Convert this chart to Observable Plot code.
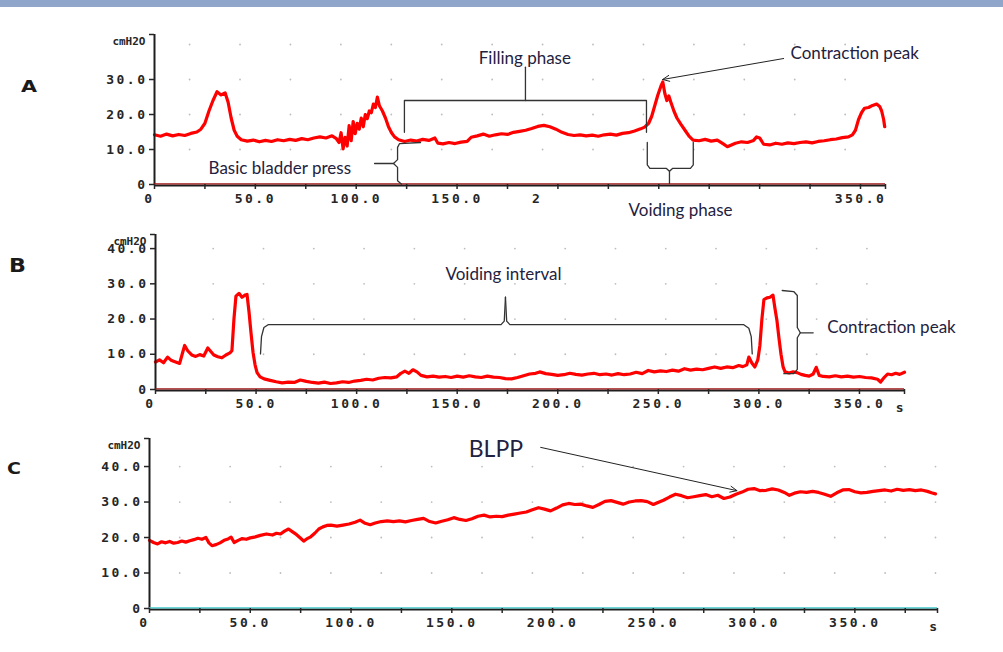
<!DOCTYPE html>
<html><head><meta charset="utf-8">
<script src="https://cdn.jsdelivr.net/npm/d3@7"></script>
<script src="https://cdn.jsdelivr.net/npm/@observablehq/plot@0.6"></script>
<style>
html,body{margin:0;padding:0;background:#fff;}
#wrap{position:relative;width:1003px;height:652px;overflow:hidden;background:#fff;}
#band{position:absolute;left:0;top:0;width:1003px;height:7px;background:#8fa5c9;z-index:5;}
.letter{position:absolute;font-family:"DejaVu Sans";font-weight:bold;color:#1a1a1a;line-height:1;transform-origin:left top;}
g[aria-label="x-axis tick label"] text, g[aria-label="y-axis tick label"] text {letter-spacing:2.5px;}
g[aria-label="unit"] text {letter-spacing:3px;}
</style></head>
<body><div id="wrap"><div id="band"></div></div>
<script>
// ---------- Panel A : bladder pressure (cmH2O) vs time (s) ----------
const aTime = [0,3,6,9,12,15,18,21,23,25,27,29,31,33,35,36.5,38,39.5,41,43,46,49,52,55,58,61,64,67,70,73,76,79,82,85,88,90,91.5,92.5,93.5,94.5,95.5,96.5,97.5,98.5,99.5,100.5,101.5,102.5,103.5,104.5,105.5,106.5,107.5,108.5,109.5,110.5,111.5,113,114.5,116,117.5,119,121,124,127,130,133,136,139,140.5,143,146,149,152,155,157,160,163,166,169,172,175,178,181,184,187,190,193,196,199,202,205,208,211,214,217,220,223,226,229,232,235,238,241,243,245,246.5,248,249.5,251,252,253,254,255,256,257.5,259,261,263,265,267,270,273,276,279,282,284,286,288,291,294,297,298.5,300,302,305,308,311,314,317,320,323,326,329,332,335,338,341,344,346,347.5,349,350.5,352,354,356,358,359.5,360.5,361.5,362];
const aPressure = [14.2,13.8,14.4,13.9,14.3,14.0,14.6,15.0,15.8,17.5,21.0,24.0,26.5,25.6,26.2,23.5,19.0,15.5,13.8,12.8,12.4,12.7,12.2,12.6,12.3,12.8,12.5,12.9,12.6,13.1,12.8,13.3,13.6,13.3,13.9,13.2,12.0,14.8,10.2,13.5,11.0,16.8,12.5,18.0,14.5,17.5,15.8,19.0,16.5,20.0,18.8,21.0,20.5,23.0,22.0,25.0,22.5,21.0,19.0,16.5,14.8,13.6,12.8,12.3,12.7,12.4,12.9,12.6,13.3,11.8,11.6,12.0,11.7,12.1,12.3,13.5,13.9,14.4,13.8,14.2,14.5,14.3,14.9,15.2,15.5,16.0,16.6,16.9,16.5,15.8,14.9,14.3,14.0,14.2,13.9,14.1,13.8,14.2,14.4,14.1,14.6,14.8,15.3,15.9,16.4,17.5,19.5,22.5,25.5,28.0,29.3,26.0,24.0,25.3,23.5,21.0,19.0,17.2,15.5,13.8,12.7,12.5,12.9,12.4,12.7,11.6,10.8,11.3,11.8,12.2,12.0,12.6,13.6,13.3,11.5,11.3,11.8,11.5,11.9,11.7,12.0,12.2,11.9,12.3,12.5,12.8,13.0,13.4,13.6,14.2,15.5,18.5,20.5,21.8,22.0,22.6,23.0,22.3,21.0,18.5,16.5];

// ---------- Panel B ----------
const bTime = [0,2,4,6,8,10,12,13.5,14.5,16,18,20,22,24,26,27.5,29,31,33,35,37,38,39,40,41.5,43,44.5,45.5,46.5,47.5,48.5,49.5,50.5,52,54,57,60,63,66,69,72,75,78,81,84,87,90,93,96,99,102,105,108,111,114,117,120,122,124,126,128,130,132,135,138,141,144,147,150,153,156,159,162,165,168,171,174,177,180,183,186,189,191,194,197,200,203,206,209,212,215,218,221,224,227,230,233,236,239,242,245,248,251,254,257,260,263,266,269,272,275,278,281,284,287,290,292,294,295,296.5,298,299.5,300.5,301.5,302.5,304,305.5,307,308,309,310,311,312,313,315,317,319,321,323,325,327,328.5,330,332,335,338,341,344,347,350,353,356,359,360.5,362,364,366,368,370,372.4];
const bPressure = [7.8,8.4,7.6,9.2,8.2,7.8,7.4,10.5,12.5,11.0,9.8,9.4,9.9,9.5,11.8,10.8,9.8,9.3,9.0,9.8,10.4,11.0,20.0,26.5,27.3,26.2,26.8,27.0,22.0,16.0,10.5,7.0,4.8,3.6,3.0,2.6,2.2,1.9,2.1,2.0,2.7,2.3,2.0,1.8,2.1,1.7,1.9,2.2,2.0,2.4,2.6,2.9,2.7,3.2,3.4,3.3,3.6,4.6,5.2,4.6,5.6,5.0,4.0,3.6,3.8,3.5,3.7,3.4,3.8,3.5,3.9,3.6,3.4,3.8,3.5,3.4,3.1,3.0,3.4,3.9,4.4,4.6,5.0,4.5,4.3,4.0,4.2,4.6,4.3,4.1,4.4,4.6,4.2,4.4,4.1,4.5,4.2,4.4,4.9,4.5,5.4,5.0,5.3,5.1,5.5,5.2,5.9,5.5,5.8,5.6,6.0,6.4,6.0,6.4,6.2,6.8,6.5,7.0,9.2,7.5,6.4,8.5,12.5,20.0,25.5,26.0,26.2,26.8,23.0,19.5,14.5,10.0,6.5,5.0,4.7,5.0,4.8,4.3,4.0,3.8,4.4,6.3,4.0,3.7,3.6,3.9,3.6,3.8,3.5,3.7,3.4,3.3,2.9,2.1,3.2,4.4,4.2,4.6,4.3,4.9];

// ---------- Panel C ----------
const cTime = [0,2,4,6,8,10,12,14,16,18,20,22,24,26,28,29.5,31,33,35,37,39,40.5,42,44,46,48,50,52,55,58,61,63,65,67,69,71,73,75,76.5,78,80,82,84,86,88,90,93,96,99,102,104.5,107,109.5,112,115,118,121,124,127,130,133,136,139,142,145,148,151,154,157,160,163,166,169,172,175,178,181,184,187,190,193,196,199,202,205,208,211,214,217,220,223,226,229,232,235,238,241,244,247,250,252,255,258,261,264,267,270,273,276,279,282,285,288,291,294,297,300,303,306,309,312,315,317.5,320,323,326,329,332,335,338,341,344,347,350,353,356,359,362,365,368,371,374,377,380,383,386,388,390];
const cPressure = [19.2,18.6,18.2,18.8,18.5,18.9,18.4,18.6,19.0,18.7,19.1,19.4,19.8,19.5,20.0,18.5,17.7,18.0,18.5,19.2,19.6,20.1,18.6,19.2,19.7,19.5,19.9,20.1,20.6,21.0,20.7,21.2,21.0,21.8,22.4,21.6,20.8,19.8,19.0,19.6,20.2,21.2,22.4,23.0,23.4,23.5,23.2,23.5,23.8,24.3,24.9,24.0,23.6,24.1,24.5,24.7,24.5,24.7,24.4,24.8,25.1,25.4,24.5,24.1,24.6,25.0,25.6,25.1,24.8,25.3,26.0,26.3,25.8,26.0,25.9,26.3,26.6,26.9,27.2,27.8,28.4,28.0,27.5,28.3,29.2,29.6,29.3,29.4,28.9,28.5,29.3,30.2,30.4,29.9,29.4,30.0,30.3,30.4,30.1,29.3,29.8,30.5,31.4,32.2,31.8,31.2,31.5,31.8,32.1,31.5,31.9,31.0,31.4,32.2,32.8,33.6,33.8,33.2,33.3,33.7,33.4,32.7,31.9,32.5,32.9,32.7,33.0,32.7,32.2,31.6,32.6,33.4,33.5,32.9,32.6,32.7,33.0,33.2,33.4,33.1,33.6,33.3,33.5,33.2,33.4,33.0,32.6,32.3];

// ---------- labels ----------
const unitLabel = "cmH2O";
const timeUnit = "s";
const panelLetters = ["A", "B", "C"];

// ---------- annotations (data units) ----------
const aFillingBracket = [
  {g:1,x:123.9,y:14.9},{g:1,x:123.9,y:24.0},{g:1,x:243.9,y:24.0},{g:1,x:243.9,y:14.9},
  {g:2,x:183.9,y:24.0},{g:2,x:183.9,y:33.5}];
const aBasicBrace = [
  {g:1,x:131.9,y:12.0},{g:1,x:121.5,y:11.7},{g:1,x:120.5,y:10.6},{g:1,x:120.5,y:7.1},{g:1,x:118.5,y:6.0},{g:1,x:109.1,y:6.0},
  {g:2,x:118.5,y:6.0},{g:2,x:120.5,y:4.9},{g:2,x:120.5,y:1.1},{g:2,x:122.5,y:0.1}];
const aVoidBrace = [
  {g:1,x:244.3,y:12.0},{g:1,x:244.3,y:5.6},{g:1,x:245.6,y:4.6},{g:1,x:253.8,y:4.6},{g:1,x:255.3,y:3.8},{g:1,x:255.3,y:0.3},
  {g:2,x:255.3,y:3.8},{g:2,x:256.8,y:4.6},{g:2,x:265.7,y:4.6},{g:2,x:267.1,y:5.6},{g:2,x:267.1,y:12.0}];
const aArrow = [{x1:311.9,y1:36.0,x2:251.9,y2:30.0}];
const aCover = [{x1:192.2,x2:320,y1:-2.6,y2:-11.5}];
const aCenterNotes = [{x:183.6,y:34.3,label:"Filling phase"}, {x:260.8,y:-9.1,label:"Voiding phase"}];
const aStartNotes = [{x:315.3,y:35.9,label:"Contraction peak"}, {x:26.8,y:2.9,label:"Basic bladder press"}];

const bIntervalBrace = [
  {g:1,x:52.2,y:10.1},{g:1,x:52.7,y:15.0},{g:1,x:53.9,y:17.6},{g:1,x:56.0,y:18.4},{g:1,x:171.8,y:18.4},{g:1,x:173.4,y:19.4},{g:1,x:174.0,y:26.2},
  {g:2,x:174.0,y:26.2},{g:2,x:174.6,y:19.4},{g:2,x:176.2,y:18.4},{g:2,x:292.5,y:18.4},{g:2,x:295.0,y:17.4},{g:2,x:296.2,y:15.0},{g:2,x:296.7,y:10.1}];
const bPeakBrace = [
  {g:1,x:311.6,y:28.1},{g:1,x:317.3,y:27.8},{g:1,x:319.1,y:26.7},{g:1,x:319.1,y:17.6},{g:1,x:320.6,y:16.1},{g:1,x:327.0,y:16.1},
  {g:2,x:320.6,y:16.1},{g:2,x:319.1,y:14.7},{g:2,x:319.1,y:5.7},{g:2,x:317.3,y:4.5},{g:2,x:312.4,y:4.5}];
const bCenterNotes = [{x:173.0,y:31.0,label:"Voiding interval"}];
const bStartNotes = [{x:334.0,y:15.9,label:"Contraction peak"}];

const cArrow = [{x1:194.1,y1:45.4,x2:291.5,y2:33.2}];
const cStartNotes = [{x:158.4,y:42.8,label:"BLPP"}];

const noteFont = {fontFamily:"Lato", fontSize:17, fontWeight:"normal", fill:"#1f2240", lineAnchor:"bottom"};

function notes(data, anchor, extra = {}) {
  return Plot.text(data, {x:"x", y:"y", text:"label", textAnchor: anchor, ...noteFont, ...extra});
}
function brace(data) {
  return Plot.line(data, {x:"x", y:"y", z:"g", stroke:"#333", strokeWidth:1.3});
}
function arrow(data) {
  return Plot.arrow(data, {x1:"x1", y1:"y1", x2:"x2", y2:"y2", stroke:"#222", strokeWidth:1, headLength:11, headAngle:48});
}

function buildPanel(o) {
  const series = o.time.map((t, i) => ({t, p: o.pressure[i]}));
  const grid = [];
  for (const gx of o.gridX) for (const gy of [10, 20, 30, 40]) grid.push({gx, gy});
  const xTicks = d3.range(0, o.xMax, 25).concat([o.xMax]);
  const yTicks = d3.range(0, o.yLabelMax + 1, 10).concat([o.yMax]);
  const svg = Plot.plot({
    width: 1003, height: o.height,
    marginLeft: o.ml, marginRight: o.mr, marginTop: o.mt, marginBottom: o.mb,
    x: {domain: [0, o.xMax], label: null},
    y: {domain: [0, o.yMax], label: null},
    style: {fontFamily: "'DejaVu Sans Mono', monospace", fontSize: "13px", fontWeight: "bold", color: "#262626", background: "none", overflow: "visible"},
    marks: [
      Plot.dot(grid, {x:"gx", y:"gy", r:0.9, fill:"#bdbdbd", stroke:null}),
      Plot.line(series, {x:"t", y:"p", stroke:"#ff0000", strokeWidth:3.2, strokeLinejoin:"round"}),
      Plot.ruleX([0], {stroke:"#1e1e1e", strokeWidth:2}),
      Plot.ruleY([0], {stroke:"#1e1e1e", strokeWidth:2, dy:1}),
      Plot.ruleY([0], {stroke:o.baseColor, strokeWidth:1.3, dy:-0.7}),
      Plot.axisX({ticks:xTicks, tickSize:5, tickPadding:4, strokeWidth:1.5, label:null,
        tickFormat: d => (d > 0 && d % 50 === 0) ? d.toFixed(1) : ""}),
      Plot.axisX({ticks:[0], tickSize:0, tickPadding:9, dx:-5, label:null, tickFormat: () => "0"}),
      Plot.axisY({ticks:yTicks, tickSize:5, tickPadding:2, strokeWidth:1.5, label:null,
        tickFormat: d => d === 0 ? "0" : (d % 10 === 0 ? d.toFixed(1) : "")}),
      Plot.text([unitLabel], {x:0, y:o.unitY, text:d => d, textAnchor:"end", dx:-9, fontSize:11, ariaLabel:"unit"}),
      ...(o.sX ? [Plot.text([timeUnit], {x:o.sX, y:0, text:d => d, dy:18})] : []),
      ...o.extra
    ]
  });
  Object.assign(svg.style, {position:"absolute", left:"0px", top:o.top + "px"});
  document.getElementById("wrap").appendChild(svg);
}

buildPanel({
  time:aTime, pressure:aPressure, top:0, height:225, ml:154, mr:118, mt:34, mb:41,
  xMax:362.4, yMax:42.86, yLabelMax:30, unitY:40.9, baseColor:"#a01515",
  gridX: d3.range(0, 14).map(k => 17.4 + 25 * k),
  extra: [
    brace(aFillingBracket), brace(aBasicBrace), brace(aVoidBrace), arrow(aArrow),
    Plot.rect(aCover, {x1:"x1", x2:"x2", y1:"y1", y2:"y2", fill:"white"}),
    notes(aCenterNotes, "middle"), notes(aStartNotes, "start")
  ]
});
buildPanel({
  time:bTime, pressure:bPressure, top:225, height:195, ml:155, mr:99, mt:9, mb:31,
  xMax:372.4, yMax:44.0, yLabelMax:40, unitY:42.1, baseColor:"#a01515", sX:370,
  gridX: d3.range(0, 14).map(k => 28.7 + 25 * k),
  extra: [brace(bIntervalBrace), brace(bPeakBrace), notes(bCenterNotes, "middle"), notes(bStartNotes, "start")]
});
buildPanel({
  time:cTime, pressure:cPressure, top:420, height:232, ml:149, mr:66, mt:18, mb:44,
  xMax:391, yMax:47.9, yLabelMax:40, unitY:45.9, baseColor:"#3cc8c8", sX:388.8,
  gridX: d3.range(0, 16).map(k => 15 + 25 * k),
  extra: [arrow(cArrow), notes(cStartNotes, "start", {fontSize:23})]
});

// panel letters
const letterPos = [{left:21, top:80, size:15, sx:1.38}, {left:9, top:256, size:19, sx:1.17}, {left:7, top:461, size:16.5, sx:1.15}];
panelLetters.forEach((L, i) => {
  const d = document.createElement("div");
  d.className = "letter";
  d.textContent = L;
  const p = letterPos[i];
  Object.assign(d.style, {left:p.left + "px", top:p.top + "px", fontSize:p.size + "px", transform:`scaleX(${p.sx})`});
  document.getElementById("wrap").appendChild(d);
});
</script></body></html>
